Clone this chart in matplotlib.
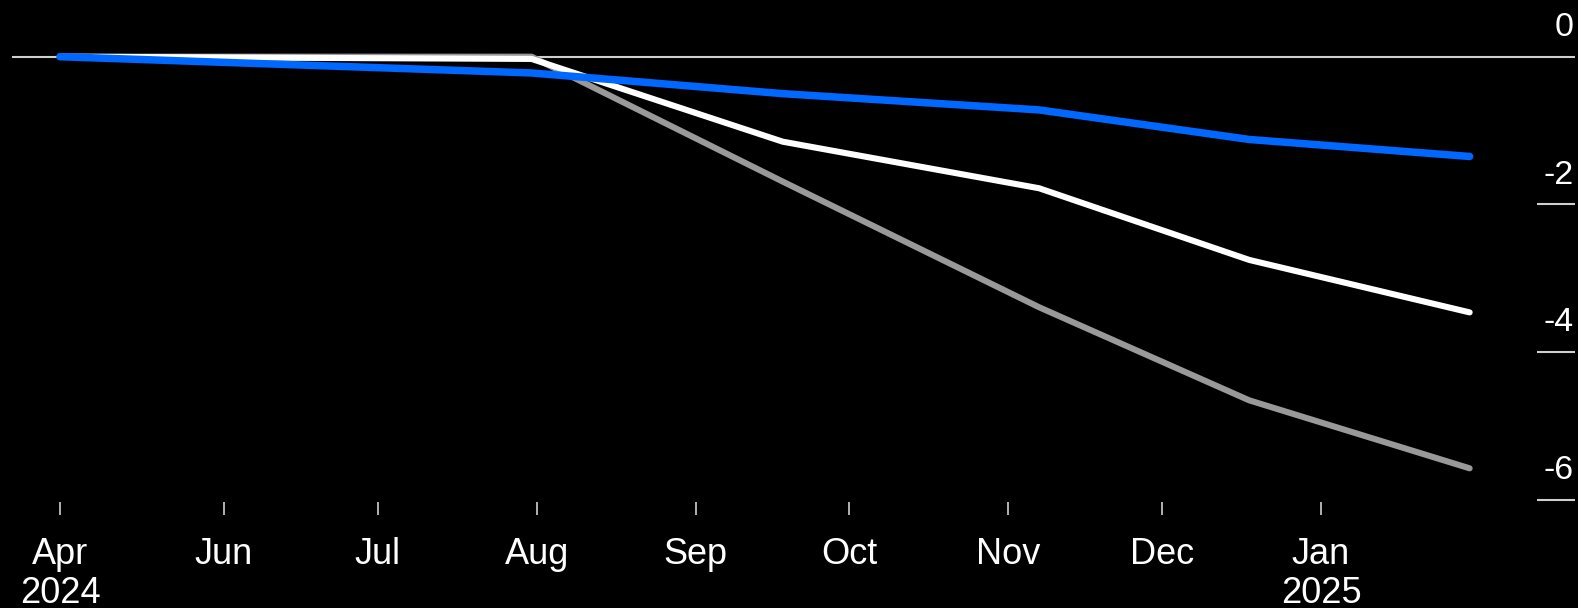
import matplotlib
matplotlib.use("Agg")
import matplotlib.pyplot as plt
import matplotlib.dates as mdates
import matplotlib.transforms as mtransforms
import pandas as pd

# Meeting dates and cumulative change for each scenario
dates = pd.to_datetime(["2024-04-30", "2024-07-31", "2024-09-18",
                        "2024-11-07", "2024-12-18", "2025-01-30"])
gray_series = [0.0, 0.0, -1.69, -3.39, -4.65, -5.57]
white_series = [0.0, -0.03, -1.15, -1.78, -2.75, -3.46]
blue_series = [0.0, -0.22, -0.50, -0.72, -1.12, -1.35]

# Axis ticks
xtick_dates = pd.to_datetime(["2024-04-30", "2024-06-01", "2024-07-01",
                              "2024-08-01", "2024-09-01", "2024-10-01",
                              "2024-11-01", "2024-12-01", "2025-01-01"])
xtick_labels = ["Apr\n2024", "Jun", "Jul", "Aug", "Sep", "Oct", "Nov",
                "Dec", "Jan\n2025"]
ytick_values = [0, -2, -4, -6]
ytick_labels = ["0", "-2", "-4", "-6"]

plt.rcParams["font.family"] = ["Liberation Sans", "DejaVu Sans"]

W, H = 1578, 608
fig = plt.figure(figsize=(W / 100, H / 100), dpi=100, facecolor="black")

# axes spans pixel x 12..1575, pixel y 0..502
ax = fig.add_axes([12 / W, (H - 502) / H, (1575 - 12) / W, 502 / H])
ax.set_facecolor("black")
for s in ax.spines.values():
    s.set_visible(False)

jun1 = mdates.date2num(pd.Timestamp("2024-06-01"))
jan1 = mdates.date2num(pd.Timestamp("2025-01-01"))
ax.set_xlim(jun1 - 212 / 5.126, jan1 + 254 / 5.126)
px_per_unit = 73.9
ax.set_ylim(-(502 - 56.7) / px_per_unit, 56.7 / px_per_unit)

grid_col = "#cfcfcf"

# zero line across the full width
ax.axhline(0, color=grid_col, lw=1.5, zorder=1)

# short tick marks under the right-hand labels
trans = mtransforms.blended_transform_factory(ax.transAxes, ax.transData)
x0 = (1537 - 12) / (1575 - 12)
for v, lab in zip(ytick_values, ytick_labels):
    if v != 0:
        ax.plot([x0, 1.0], [v, v], transform=trans, color=grid_col,
                lw=1.5, solid_capstyle="butt", clip_on=False, zorder=1)
    ax.annotate(lab, xy=(1.0, v), xycoords=trans, xytext=(-1, 10),
                textcoords="offset points", ha="right", va="bottom",
                color="white", fontsize=24.5)

xd = mdates.date2num(dates)
ax.plot(xd, gray_series, color="#999999", lw=4.4,
        solid_capstyle="round", solid_joinstyle="round", zorder=3)
ax.plot(xd, white_series, color="white", lw=4.4,
        solid_capstyle="round", solid_joinstyle="round", zorder=4)
ax.plot(xd, blue_series, color="#0068ff", lw=5.4,
        solid_capstyle="round", solid_joinstyle="round", zorder=5)

ax.set_xticks(mdates.date2num(xtick_dates))
ax.set_xticklabels(xtick_labels, color="white", fontsize=26,
                   linespacing=1.14)
ax.tick_params(axis="x", direction="out", length=9.4, width=1.2,
               color=grid_col, pad=16)
ax.set_yticks([])

fig.savefig("out.png", dpi=100, facecolor="black")
